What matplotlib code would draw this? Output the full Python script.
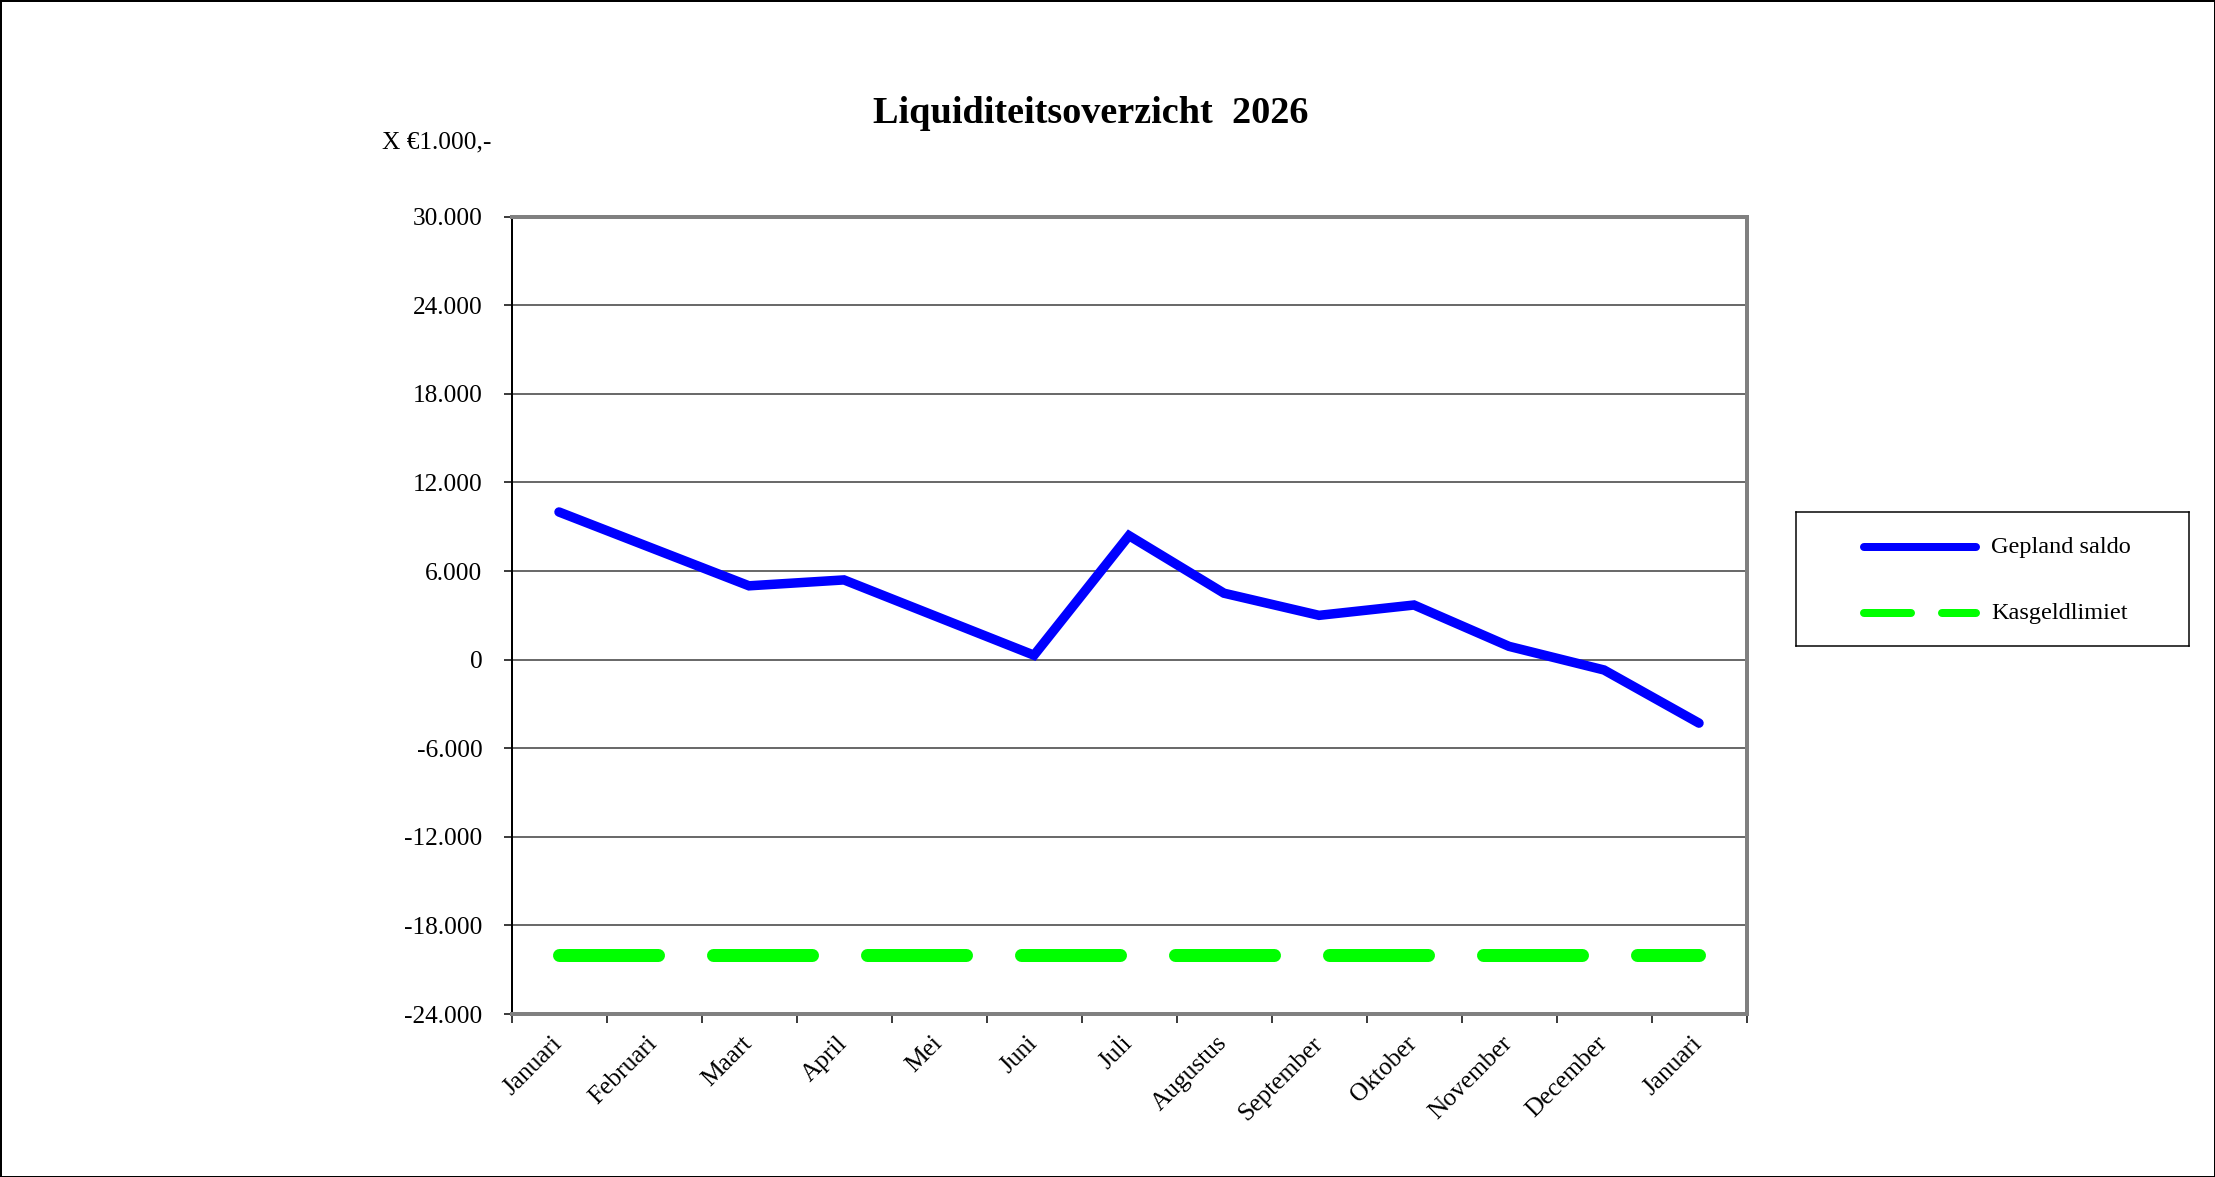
import matplotlib
matplotlib.use("Agg")
import matplotlib.pyplot as plt
from matplotlib.ticker import FuncFormatter, FixedLocator
from matplotlib.patches import Rectangle
import numpy as np

plt.rcParams['font.family'] = ['Liberation Serif', 'DejaVu Serif']

# ---- data ----
months = ["Januari", "Februari", "Maart", "April", "Mei", "Juni", "Juli",
          "Augustus", "September", "Oktober", "November", "December", "Januari"]
gepland_saldo = [10000, 7500, 5000, 5400, 2850, 300, 8400, 4500, 3000, 3700, 900, -700, -4300]
kasgeldlimiet = [-20000] * 13
y_ticks = [-24000, -18000, -12000, -6000, 0, 6000, 12000, 18000, 24000, 30000]
title = "Liquiditeitsoverzicht  2026"
unit_label = "X €1.000,-"
legend_labels = ["Gepland saldo", "Kasgeldlimiet"]

W, H = 2215, 1177
DPI = 100
fig = plt.figure(figsize=(W / DPI, H / DPI), dpi=DPI)
px = 72 / DPI  # points per pixel
FS = 18.3

# plot area
left, right, top, bottom = 511.5, 1746.5, 216.7, 1014
ax = fig.add_axes([left / W, 1 - bottom / H, (right - left) / W, (bottom - top) / H])

x = np.arange(len(months)) + 0.5
ax.set_xlim(0, len(months))
ax.set_ylim(y_ticks[0], y_ticks[-1])

# grid
ax.set_yticks(y_ticks)
ax.yaxis.grid(True, color='#3a3a3a', linewidth=1.5 * px)
ax.set_axisbelow(True)

# series
ax.plot(x, kasgeldlimiet, color='#00FF00', linewidth=13 * px,
        linestyle=(0, (99 / 13, 55 / 13)), dash_capstyle='round', zorder=3)
ax.plot(x, gepland_saldo, color='#0000FF', linewidth=9.5 * px,
        solid_capstyle='round', solid_joinstyle='miter', zorder=4)

# y axis formatting
ax.yaxis.set_major_formatter(FuncFormatter(lambda v, p: f"{v:,.0f}".replace(',', '.')))
ax.tick_params(axis='y', direction='out', length=8 * px, width=1.5 * px,
               pad=21 * px, labelsize=FS, colors='black')

# x axis: ticks between categories, labels at centers
ax.xaxis.set_major_locator(FixedLocator(np.arange(len(months) + 1)))
ax.set_xticklabels([''] * (len(months) + 1))
ax.tick_params(axis='x', which='major', direction='out', length=9 * px, width=1.5 * px)
ax.set_xticks(x, minor=True)
ax.set_xticklabels(months, minor=True, rotation=45, ha='right', va='center',
                   rotation_mode='anchor', fontsize=FS)
ax.tick_params(axis='x', which='minor', length=0, pad=26 * px)

# frame
for s in ['top', 'right', 'bottom']:
    ax.spines[s].set_color('#808080')
    ax.spines[s].set_linewidth(4 * px)
ax.spines['left'].set_color('black')
ax.spines['left'].set_linewidth(2 * px)

# title and unit label
fig.text(1090.5 / W, 1 - 123 / H, title, ha='center', va='baseline',
         fontsize=27.5, fontweight='bold')
fig.text(382 / W, 1 - 148 / H, unit_label, ha='left', va='baseline', fontsize=FS)

# legend box
lx0, lx1, ly0, ly1 = 1796, 2189, 512, 646
lax = fig.add_axes([lx0 / W, 1 - ly1 / H, (lx1 - lx0) / W, (ly1 - ly0) / H])
lax.set_xlim(lx0, lx1)
lax.set_ylim(ly1, ly0)
lax.set_xticks([])
lax.set_yticks([])
for s in lax.spines.values():
    s.set_color('black')
    s.set_linewidth(1.5 * px)
ly = [547, 613]
lax.plot([1864, 1976], [ly[0], ly[0]], color='#0000FF', linewidth=8 * px,
         solid_capstyle='round')
lax.plot([1864, 1976], [ly[1], ly[1]], color='#00FF00', linewidth=8 * px,
         linestyle=(0, (47 / 8, 31 / 8)), dash_capstyle='round')
for yy, lab in zip(ly, legend_labels):
    lax.text(1991, yy, lab, ha='left', va='center', fontsize=17.5)

# figure border
fig.patches.append(Rectangle((0, 0), 1, 1, transform=fig.transFigure, fill=False,
                             edgecolor='black', linewidth=3 * px))

fig.savefig("out.png", dpi=DPI)
